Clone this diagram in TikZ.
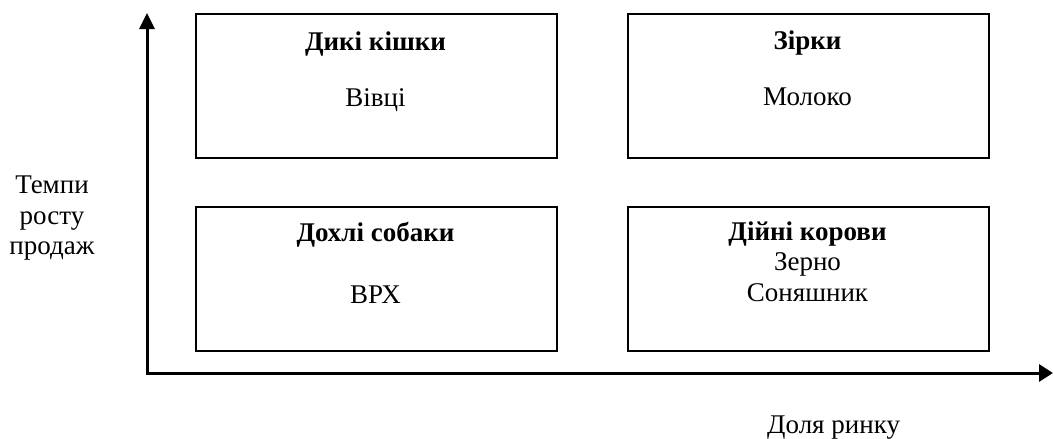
\documentclass[tikz,border=0pt]{standalone}
\usepackage{fontspec}
\setmainfont{Liberation Serif}
\usetikzlibrary{arrows.meta}
\begin{document}
\begin{tikzpicture}[x=1pt,y=-1pt,
  quad/.style={draw, line width=1.8pt, inner sep=0pt, minimum width=361pt, minimum height=144pt, anchor=north west},
  axis/.style={line width=3pt, line join=miter, {Triangle[length=16pt,width=15pt]}-{Triangle[length=14pt,width=17pt]}},
  lbl/.style={anchor=base, inner sep=0pt, font=\fontsize{27}{31}\selectfont},
  ttl/.style={anchor=base, inner sep=0pt, font=\fontsize{27}{31}\selectfont\bfseries}]
\useasboundingbox (0,0) rectangle (1053,439);
% quadrants
\node[quad] (wc) at (195,13) {};
\node[quad] (st) at (627,13) {};
\node[quad] (dd) at (195,206) {};
\node[quad] (cc) at (627,206) {};
% axes
\coordinate (o) at (147,373);
\coordinate (ytip) at (147,13);
\coordinate (xtip) at (1053,373);
\draw[axis] (ytip) -- (o) -- (xtip);
% texts
\node[ttl] (t1) at (375.5,50) {Дикі кішки};
\node[lbl] (s1) at (375.5,106) {Вівці};
\node[ttl] (t2) at (807.5,49) {Зірки};
\node[lbl] (s2) at (807.5,105) {Молоко};
\node[ttl] (t3) at (375.5,241) {Дохлі собаки};
\node[lbl] (s3) at (375.5,303) {ВРХ};
\node[ttl] (t4) at (807.5,240) {Дійні корови};
\node[lbl] (s4a) at (807.5,270) {Зерно};
\node[lbl] (s4b) at (807.5,301) {Соняшник};
% axis labels
\node[lbl] (y1) at (52,193) {Темпи};
\node[lbl] (y2) at (52,224) {росту};
\node[lbl] (y3) at (52,254) {продаж};
\node[lbl, anchor=base west] (xl) at (767,433) {Доля ринку};
\end{tikzpicture}
\end{document}
